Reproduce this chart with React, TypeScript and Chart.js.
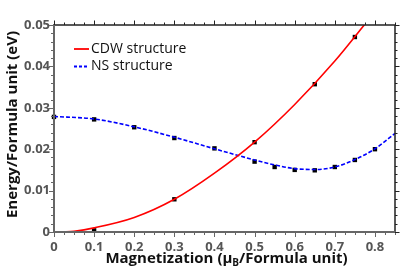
import React, { useEffect, useRef } from 'react';
import { Chart, registerables } from 'chart.js';
Chart.register(...registerables);

// Fitted curves
const cdwFitX = [0.02, 0.05, 0.1, 0.2, 0.3, 0.4, 0.5, 0.6, 0.7, 0.78];
const cdwFitY = [0.0, 0.0002, 0.001, 0.0035, 0.0079, 0.0142, 0.0217, 0.0308, 0.0413, 0.0508];
const nsFitX = [0, 0.1, 0.2, 0.3, 0.4, 0.5, 0.55, 0.6, 0.65, 0.7, 0.75, 0.8, 0.85];
const nsFitY = [0.0279, 0.0273, 0.0254, 0.0229, 0.0201, 0.0174, 0.0162, 0.0153, 0.0151, 0.0157, 0.0175, 0.0201, 0.0238];

// Calculated points
const cdwPtX = [0.1, 0.3, 0.5, 0.65, 0.75];
const cdwPtY = [0.0004, 0.0079, 0.0217, 0.0357, 0.0471];
const nsPtX = [0, 0.1, 0.2, 0.3, 0.4, 0.5, 0.55, 0.6, 0.65, 0.7, 0.75, 0.8];
const nsPtY = [0.0278, 0.0272, 0.0253, 0.0227, 0.0202, 0.017, 0.0157, 0.015, 0.0149, 0.0157, 0.0174, 0.02];

// Ticks
const xTickValues = [0, 0.1, 0.2, 0.3, 0.4, 0.5, 0.6, 0.7, 0.8];
const yTickValues = [0, 0.01, 0.02, 0.03, 0.04, 0.05];
const xMinorStep = 0.025;
const yMinorStep = 0.002;

const seriesLabels = ['CDW structure', 'NS structure'];

export default function App() {
  const ref = useRef<HTMLCanvasElement>(null);
  useEffect(() => {
    if (!ref.current) return;
    const toPts = (xs: number[], ys: number[]) => xs.map((x, i) => ({ x, y: ys[i] }));

    const framePlugin = {
      id: 'frame',
      afterDraw(chart: any) {
        const ctx = chart.ctx as CanvasRenderingContext2D;
        const { left, right, top, bottom } = chart.chartArea;
        const xs = chart.scales.x;
        const ys = chart.scales.y;
        ctx.save();
        // frame
        ctx.lineCap = 'butt';
        ctx.strokeStyle = '#222';
        ctx.lineWidth = 1.5;
        ctx.beginPath();
        ctx.moveTo(left, top);
        ctx.lineTo(right, top);
        ctx.lineTo(right, bottom);
        ctx.stroke();
        ctx.strokeStyle = '#666';
        ctx.lineWidth = 2;
        ctx.beginPath();
        ctx.moveTo(left, top - 1);
        ctx.lineTo(left, bottom);
        ctx.lineTo(right + 1, bottom);
        ctx.stroke();

        const isMajor = (v: number, arr: number[]) => arr.some((a) => Math.abs(a - v) < 1e-9);
        // x ticks
        const xVals: number[] = [];
        for (let i = 0; i * xMinorStep <= xs.max + 1e-9; i++) xVals.push(+(i * xMinorStep).toFixed(4));
        xVals.forEach((v) => {
          const px = Math.round(xs.getPixelForValue(v)) + 0.5;
          const len = isMajor(v, xTickValues) ? 4 : 2;
          ctx.lineWidth = 1;
          ctx.strokeStyle = '#666';
          ctx.beginPath();
          ctx.moveTo(px, bottom);
          ctx.lineTo(px, bottom + len + 1);
          ctx.stroke();
          ctx.strokeStyle = '#222';
          ctx.beginPath();
          ctx.moveTo(px, top);
          ctx.lineTo(px, top - len - 0.5);
          ctx.stroke();
        });
        const yVals: number[] = [];
        for (let i = 0; i * yMinorStep <= ys.max + 1e-9; i++) yVals.push(+(i * yMinorStep).toFixed(4));
        yVals.forEach((v) => {
          const py = Math.round(ys.getPixelForValue(v)) + 0.5;
          const len = isMajor(v, yTickValues) ? 4 : 2;
          ctx.lineWidth = 1;
          ctx.strokeStyle = '#666';
          ctx.beginPath();
          ctx.moveTo(left, py);
          ctx.lineTo(left - len - 1, py);
          ctx.stroke();
          ctx.strokeStyle = '#222';
          ctx.beginPath();
          ctx.moveTo(right, py);
          ctx.lineTo(right + len + 0.5, py);
          ctx.stroke();
        });

        // legend
        ctx.font = '14px "Open Sans"';
        ctx.textBaseline = 'middle';
        ctx.textAlign = 'left';
        ctx.fillStyle = '#111';
        const legendRows = [
          { y: top + 24, color: '#ff0000', dash: [] as number[] },
          { y: top + 41.5, color: '#0000ff', dash: [3, 2] },
        ];
        legendRows.forEach((r, i) => {
          ctx.strokeStyle = r.color;
          ctx.lineWidth = 1.8;
          ctx.setLineDash(r.dash);
          ctx.beginPath();
          ctx.moveTo(left + 20, r.y);
          ctx.lineTo(left + 35, r.y);
          ctx.stroke();
          ctx.setLineDash([]);
          ctx.fillText(seriesLabels[i], left + 37, r.y);
        });

        // x title with subscript
        ctx.fillStyle = '#111';
        ctx.textBaseline = 'alphabetic';
        const big = 'bold 15px "Open Sans"';
        const small = 'bold 10px "Open Sans"';
        const p1 = 'Magnetization (\u03bc';
        const p2 = 'B';
        const p3 = '/Formula unit)';
        ctx.font = big;
        const w1 = ctx.measureText(p1).width;
        const w3 = ctx.measureText(p3).width;
        ctx.font = small;
        const w2 = ctx.measureText(p2).width;
        const total = w1 + w2 + w3;
        let sx = (left + right) / 2 + 2 - total / 2;
        const base = bottom + 31;
        ctx.font = big;
        ctx.fillText(p1, sx, base);
        sx += w1;
        ctx.font = small;
        ctx.fillText(p2, sx, base + 2.5);
        sx += w2;
        ctx.font = big;
        ctx.fillText(p3, sx, base);

        // y title
        ctx.save();
        ctx.translate(13, (top + bottom) / 2 - 4);
        ctx.rotate(-Math.PI / 2);
        ctx.font = big;
        ctx.textAlign = 'center';
        ctx.textBaseline = 'middle';
        ctx.fillText('Energy/Formula unit (eV)', 0, 0);
        ctx.restore();

        ctx.restore();
      },
    };

    const tickFont = { family: 'Open Sans', weight: 'bold' as const, size: 13 };

    const chart = new Chart(ref.current, {
      type: 'scatter',
      data: {
        datasets: [
          {
            label: seriesLabels[0],
            data: toPts(cdwFitX, cdwFitY),
            showLine: true,
            borderColor: '#ff0000',
            borderWidth: 1.6,
            pointRadius: 0,
            tension: 0.4,
            cubicInterpolationMode: 'monotone',
          },
          {
            label: seriesLabels[1],
            data: toPts(nsFitX, nsFitY),
            showLine: true,
            borderColor: '#0000ff',
            borderWidth: 1.6,
            borderDash: [4, 2],
            pointRadius: 0,
            tension: 0.4,
            cubicInterpolationMode: 'monotone',
          },
          {
            label: 'CDW points',
            data: toPts(cdwPtX, cdwPtY),
            pointStyle: 'rect',
            pointRadius: 3.1,
            backgroundColor: '#000',
            borderColor: '#000',
            borderWidth: 0,
            clip: false,
          },
          {
            label: 'NS points',
            data: toPts(nsPtX, nsPtY),
            pointStyle: 'rect',
            pointRadius: 3.1,
            backgroundColor: '#000',
            borderColor: '#000',
            borderWidth: 0,
            clip: false,
          },
        ],
      },
      options: {
        animation: false,
        responsive: false,
        maintainAspectRatio: false,
        layout: { padding: { top: 25, right: 20, left: 0, bottom: 0 } },
        plugins: { legend: { display: false }, tooltip: { enabled: false } },
        scales: {
          x: {
            type: 'linear',
            min: 0,
            max: 0.85,
            afterBuildTicks: (s: any) => {
              s.ticks = xTickValues.map((v) => ({ value: v }));
            },
            afterFit: (s: any) => {
              s.height = 45;
            },
            grid: { display: false, drawTicks: false },
            border: { display: false },
            ticks: {
              padding: 7,
              color: '#555',
              font: tickFont,
              maxRotation: 0,
              autoSkip: false,
              callback: (v: any) => (Number(v) === 0 ? '0' : Number(v).toFixed(1)),
            },
          },
          y: {
            type: 'linear',
            min: 0,
            max: 0.05,
            afterBuildTicks: (s: any) => {
              s.ticks = yTickValues.map((v) => ({ value: v }));
            },
            afterFit: (s: any) => {
              s.width = 54;
            },
            grid: { display: false, drawTicks: false },
            border: { display: false },
            ticks: {
              padding: 4,
              color: '#555',
              font: tickFont,
              autoSkip: false,
              callback: (v: any) => (Number(v) === 0 ? '0' : Number(v).toFixed(2)),
            },
          },
        },
      },
      plugins: [framePlugin],
    } as any);
    return () => chart.destroy();
  }, []);
  return (
    <div style={{ position: 'fixed', left: 0, top: 0, width: 415, height: 277, background: '#fff' }}>
      <canvas ref={ref} width={415} height={277} style={{ display: 'block' }} />
    </div>
  );
}
